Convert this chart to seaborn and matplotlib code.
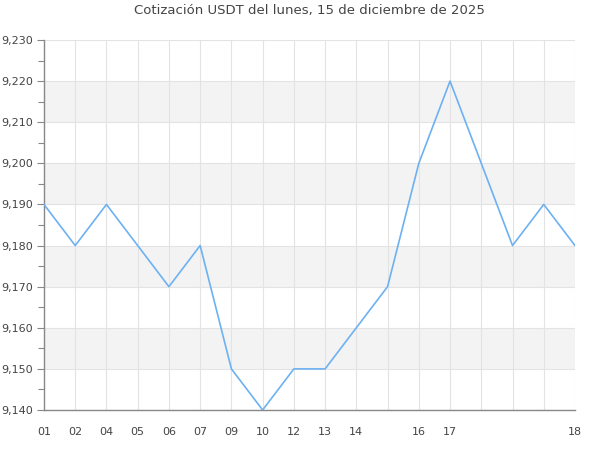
import matplotlib

matplotlib.use("Agg")
import matplotlib.pyplot as plt
import numpy as np
import pandas as pd
import seaborn as sns
from matplotlib.ticker import FuncFormatter, MultipleLocator

TITLE = "Cotización USDT del lunes, 15 de diciembre de 2025"
HOURS = ["01", "02", "04", "05", "06", "07", "09", "10", "12", "13",
         "14", "", "16", "17", "", "", "", "18"]
PRICES = [9190, 9180, 9190, 9180, 9170, 9180, 9150, 9140, 9150, 9150,
          9160, 9170, 9200, 9220, 9200, 9180, 9190, 9180]

LINE, INK, GRID, BAND = "#6db1f2", "#444444", "#e3e3e3", "#f3f3f3"

sns.set_theme(style="white")
plt.rcParams.update({"font.family": ["DejaVu Sans"], "text.color": INK,
                     "xtick.color": INK, "ytick.color": INK})

df = pd.DataFrame({"pos": np.arange(len(PRICES)), "price": PRICES})

fig = plt.figure(figsize=(6, 4.5), dpi=100)
ax = fig.add_axes([0.0733, 0.0889, 0.885, 0.8222])

# alternating horizontal bands
for lo in range(9150, 9230, 20):
    ax.axhspan(lo, lo + 10, color=BAND, lw=0, zorder=0)

sns.lineplot(data=df, x="pos", y="price", color=LINE, lw=1.2, ax=ax, zorder=3)

ax.set_xlim(0, len(PRICES) - 1)
ax.set_ylim(9140, 9230)
ax.set_xticks(df["pos"])
ax.set_xticklabels(HOURS)
ax.yaxis.set_major_locator(MultipleLocator(10))
ax.yaxis.set_minor_locator(MultipleLocator(5))
ax.yaxis.set_major_formatter(FuncFormatter(lambda v, _: f"{v:,.0f}"))
ax.grid(True, which="major", color=GRID, lw=0.8, zorder=1)
ax.set_axisbelow(True)
ax.set_xlabel("")
ax.set_ylabel("")

for side in ("top", "right"):
    ax.spines[side].set_visible(False)
for side in ("left", "bottom"):
    ax.spines[side].set_color("#888888")
    ax.spines[side].set_linewidth(1)

ax.tick_params(axis="y", which="major", left=True, length=5, width=0.8,
               color="#888888", labelsize=8, pad=3)
ax.tick_params(axis="y", which="minor", left=True, length=4, width=0.8, color="#888888")
ax.tick_params(axis="x", bottom=False, labelsize=8, pad=6)

ax.set_title(TITLE, fontsize=9.5, color=INK, pad=19)

fig.savefig("out.png", dpi=100)
